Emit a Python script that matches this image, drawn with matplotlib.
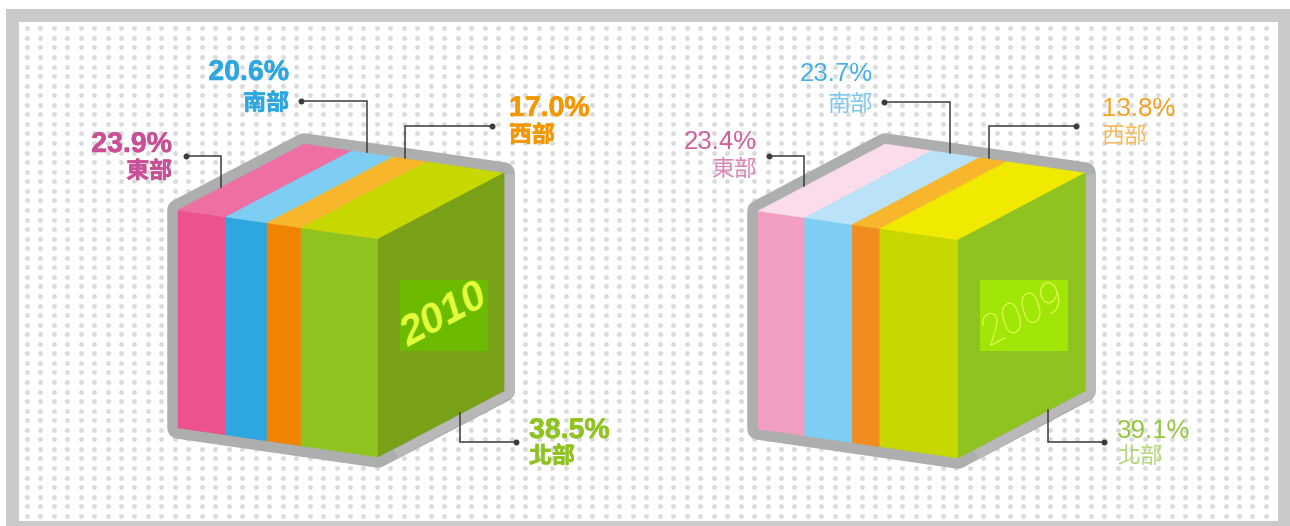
import matplotlib
matplotlib.use("Agg")
import matplotlib.pyplot as plt
import matplotlib.patheffects as pe
from matplotlib.patches import Polygon, Rectangle
import numpy as np

# shares per region, same order in both years
regions = ["東部", "南部", "西部", "北部"]
shares_2010 = [23.9, 20.6, 17.0, 38.5]
shares_2009 = [23.4, 23.7, 13.8, 39.1]

front_2010 = ["#EC5290", "#2EA7E0", "#F08300", "#8FC31F"]
top_2010 = ["#EE6FA4", "#7ECEF4", "#F8B62D", "#C7D700"]
text_2010 = ["#C94F96", "#2EA7E0", "#F39800", "#8FC31F"]
front_2009 = ["#F29EC2", "#7ECEF4", "#F18D1E", "#C6D800"]
top_2009 = ["#FADCEB", "#BAE3F9", "#F8B62D", "#F0EA00"]
text_2009 = ["#CF5FA0", "#45B0E6", "#F5A01E", "#92C63A"]
name_2009 = ["#DB85BB", "#7CC8EE", "#F8BA5E", "#B4D97A"]

CJK = ["Noto Sans CJK TC", "DejaVu Sans"]
LATIN = ["Liberation Sans"]
px = 72 / 100  # one pixel in points

fig = plt.figure(figsize=(12.9, 5.26), dpi=100)
ax = fig.add_axes([0, 0, 1, 1])
ax.set_xlim(0, 1290)
ax.set_ylim(526, 0)
ax.axis("off")

# frame and dotted paper
ax.add_patch(Rectangle((6, 9), 1290, 530, fc="#C9CAC9", ec="none", zorder=0))
ax.add_patch(Rectangle((19, 22), 1259, 498.5, fc="white", ec="none", zorder=1))
xx, yy = np.meshgrid(np.arange(26.7, 1276, 13.47), np.arange(28.3, 520, 9.56))
ax.scatter(xx.ravel(), yy.ravel(), s=12.5, c="#DADBDB", linewidths=0, zorder=2)


def draw_box(x0, y0, dx, dy, shares, front, top, side, panel, ink, family, weight, year):
    w, h = 200, 218
    slope = 29 / w
    outline = [(x0, y0), (x0 + dx, y0 + dy), (x0 + w + dx, y0 + w * slope + dy),
               (x0 + w + dx, y0 + w * slope + dy + h), (x0 + w, y0 + w * slope + h), (x0, y0 + h)]
    ax.add_patch(Polygon(outline, closed=True, fc="#ADAEAE", ec="#ADAEAE", lw=21.5 * px,
                         joinstyle="round", zorder=3))
    # slightly lighter band down the right and lower edges
    ax.plot([outline[2][0] + 6, outline[3][0] + 6, outline[4][0] + 22],
            [outline[2][1] + 6, outline[3][1] + 2, outline[4][1] - 5.5],
            color="#B8B9B8", lw=9 * px, solid_joinstyle="round", zorder=3.5)

    edges = x0 + np.concatenate([[0], np.cumsum(shares)]) * w / 100
    for i in range(len(shares)):
        a, b = edges[i], edges[i + 1]
        ya, yb = y0 + (a - x0) * slope, y0 + (b - x0) * slope
        ax.add_patch(Polygon([(a, ya), (b, yb), (b, yb + h), (a, ya + h)], fc=front[i],
                             ec=front[i], lw=0.3, zorder=4))
        ax.add_patch(Polygon([(a, ya), (b, yb), (b + dx, yb + dy), (a + dx, ya + dy)], fc=top[i],
                             ec=top[i], lw=0.3, zorder=4))
    ax.add_patch(Polygon(outline[4:2:-1] + [outline[2], (x0 + w, y0 + w * slope)], fc=side,
                         ec=side, lw=0.3, zorder=4))
    # year plate on the side face
    ax.add_patch(Rectangle((x0 + 222, 280), 88, 71, fc=panel, ec="none", zorder=5))
    ax.text(x0 + 266, 315.5, year, fontsize=30, rotation=28, rotation_mode="anchor", ha="center",
            va="center", color=ink, family=family, style="italic", weight=weight, zorder=6)


def leader(points):
    xs = [p[0] for p in points]
    ys = [p[1] for p in points]
    ax.plot(xs, ys, color="#3E3A39", lw=1.1, solid_joinstyle="miter", zorder=7)
    ax.plot(xs[0], ys[0], "o", color="#3E3A39", ms=6 * px, mew=0, zorder=7)


def label(x, y_pct, y_name, pct, name, color, name_color, ha, weight, size):
    t1 = ax.text(x, y_pct, f"{pct:.1f}%", color=color, ha=ha, va="baseline", fontsize=size,
                 family=LATIN, weight=weight, zorder=7)
    t2 = ax.text(x, y_name, name, color=name_color, ha=ha, va="baseline", fontsize=16.5,
                 family=CJK, weight=weight, zorder=7)
    if weight == "bold":
        t1.set_path_effects([pe.withStroke(linewidth=0.4, foreground=color)])
        t2.set_path_effects([pe.withStroke(linewidth=0.4, foreground=color)])


draw_box(178, 210, 126, -66, shares_2010, front_2010, top_2010, "#78A117", "#6CBB00",
         "#E6FF3C", LATIN, "bold", "2010")
draw_box(758, 211, 127, -67, shares_2009, front_2009, top_2009, "#8FC31F", "#A0E606",
         "#EAFA5A", ["Roboto"], "light", "2009")

leader([(186, 156), (221, 156), (221, 187)])
leader([(301, 101), (367, 101), (367, 152)])
leader([(492, 126), (405, 126), (405, 158)])
leader([(516, 442), (460, 442), (460, 413)])
leader([(769, 156), (804, 156), (804, 186)])
leader([(884, 102), (950, 102), (950, 153)])
leader([(1076, 126), (989, 126), (989, 158)])
leader([(1104, 442), (1048, 442), (1048, 410)])

pos_2010 = [(172, 152, 178, "right"), (289, 80, 110, "right"), (509, 116, 142, "left"), (529, 438, 463, "left")]
pos_2009 = [(757, 149, 176, "right"), (873, 81, 111, "right"), (1102, 116, 143, "left"), (1117, 438, 463, "left")]
for i in range(4):
    x, y1, y2, ha = pos_2010[i]
    label(x, y1, y2, shares_2010[i], regions[i], text_2010[i], text_2010[i], ha, "bold", 20.5)
    x, y1, y2, ha = pos_2009[i]
    label(x, y1, y2, shares_2009[i], regions[i], text_2009[i], name_2009[i], ha, "normal", 18.6)

fig.savefig("out.png", dpi=100)
